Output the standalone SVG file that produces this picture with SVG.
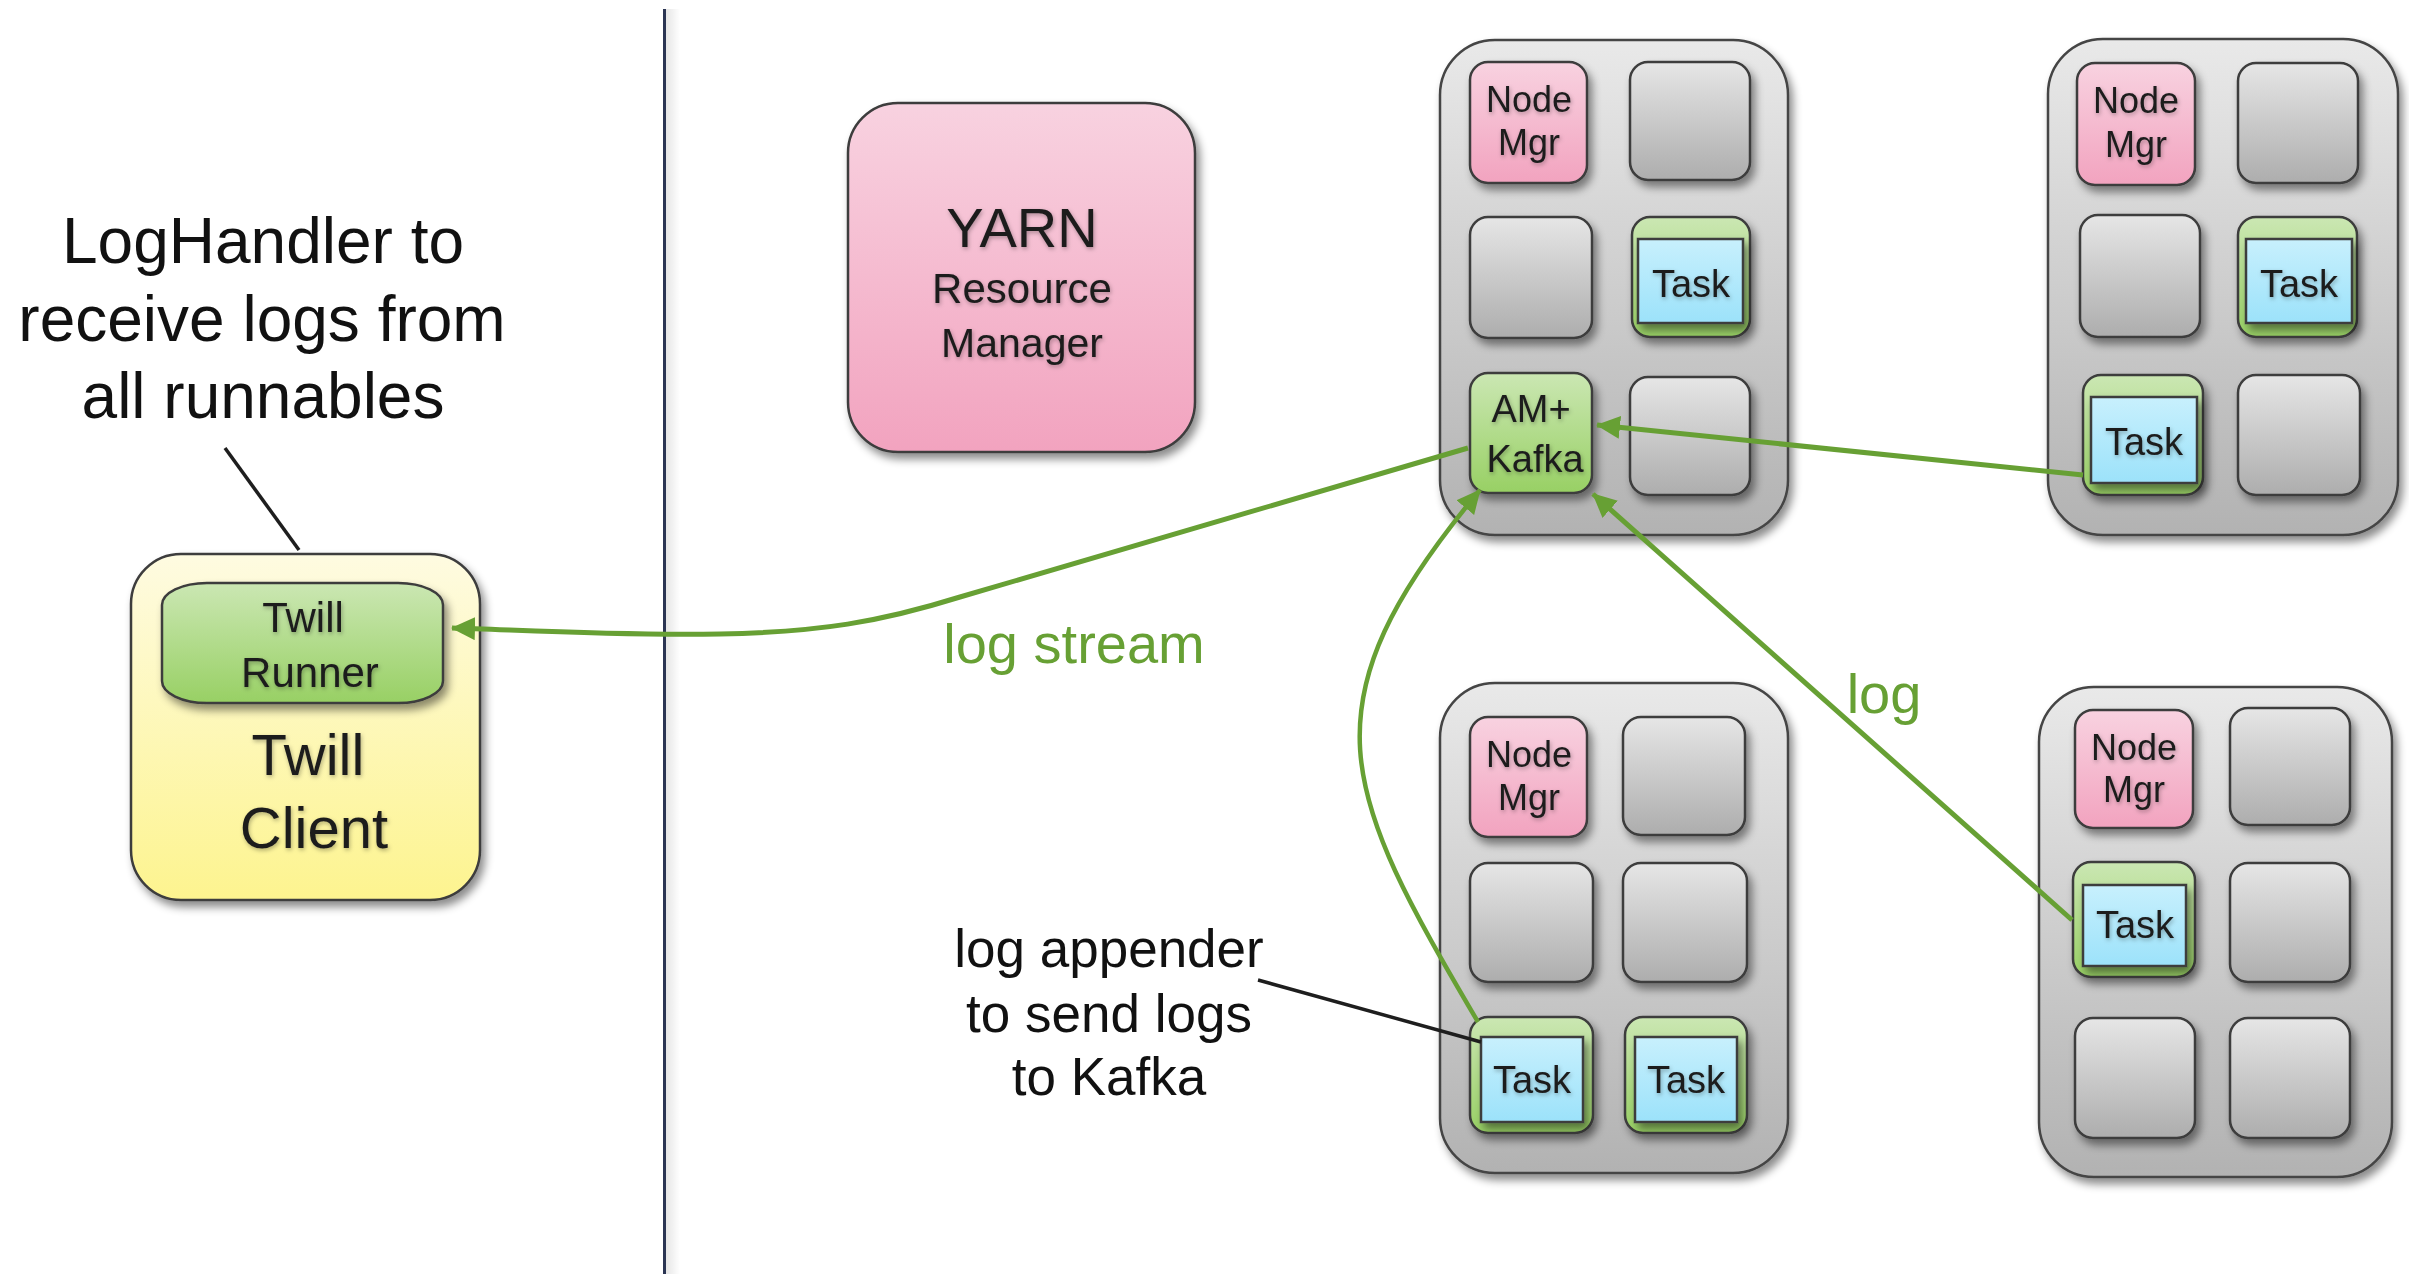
<svg xmlns="http://www.w3.org/2000/svg" width="2409" height="1274" viewBox="0 0 2409 1274">
<defs>
<linearGradient id="gHost" x1="0" y1="0" x2="0" y2="1"><stop offset="0" stop-color="#e9e9e9"/><stop offset="1" stop-color="#b2b2b2"/></linearGradient>
<linearGradient id="gGray" x1="0" y1="0" x2="0" y2="1"><stop offset="0" stop-color="#e6e6e6"/><stop offset="1" stop-color="#adadad"/></linearGradient>
<linearGradient id="gPink" x1="0" y1="0" x2="0" y2="1"><stop offset="0" stop-color="#f8d2e0"/><stop offset="1" stop-color="#f2a3bf"/></linearGradient>
<linearGradient id="gGreen" x1="0" y1="0" x2="0" y2="1"><stop offset="0" stop-color="#cbe7b3"/><stop offset="1" stop-color="#98d064"/></linearGradient>
<linearGradient id="gBlue" x1="0" y1="0" x2="0" y2="1"><stop offset="0" stop-color="#c8f0fd"/><stop offset="1" stop-color="#9ce2fa"/></linearGradient>
<linearGradient id="gYellow" x1="0" y1="0" x2="0" y2="1"><stop offset="0" stop-color="#fefbe1"/><stop offset="1" stop-color="#fdf48f"/></linearGradient>
<linearGradient id="gLineShadow" x1="0" y1="0" x2="1" y2="0"><stop offset="0" stop-color="#000" stop-opacity="0.10"/><stop offset="1" stop-color="#000" stop-opacity="0"/></linearGradient>
<filter id="sh" x="-20%" y="-20%" width="150%" height="150%"><feDropShadow dx="4" dy="6" stdDeviation="4" flood-color="#000" flood-opacity="0.45"/></filter>
<filter id="ts" x="-20%" y="-30%" width="140%" height="170%"><feDropShadow dx="1" dy="2" stdDeviation="2" flood-color="#000" flood-opacity="0.3"/></filter>
<marker id="ah" markerUnits="userSpaceOnUse" markerWidth="26" markerHeight="24" refX="23" refY="11.5" orient="auto"><path d="M0,0 L24,11.5 L0,23 z" fill="#67a034"/></marker>
</defs>
<style>
.host{fill:url(#gHost);stroke:#444;stroke-width:2.5;filter:url(#sh)}
.gray{fill:url(#gGray);stroke:#3c3c3c;stroke-width:2.5;filter:url(#sh)}
.pink{fill:url(#gPink);stroke:#3c3c3c;stroke-width:2.5;filter:url(#sh)}
.green{fill:url(#gGreen);stroke:#3c3c3c;stroke-width:2.5;filter:url(#sh)}
.blue{fill:url(#gBlue);stroke:#3c3c3c;stroke-width:2.5;filter:url(#sh)}
.yellow{fill:url(#gYellow);stroke:#3c3c3c;stroke-width:2.5;filter:url(#sh)}
.lbl{font-family:"Liberation Sans",Arial,sans-serif;fill:#1c1c1c;text-anchor:middle;filter:url(#ts)}
.s36{font-size:36px}.s38{font-size:38px}
.note{font-family:"Liberation Sans",Arial,sans-serif;fill:#111;text-anchor:middle;font-weight:300}
.glbl{font-family:"Liberation Sans",Arial,sans-serif;fill:#67a034;text-anchor:middle;font-size:56px}
.arr{fill:none;stroke:#67a034;stroke-width:5;marker-end:url(#ah)}
.call{fill:none;stroke:#1e1e1e;stroke-width:3.5}
</style>

<g id="divider">
<rect x="666" y="9" width="14" height="1265" fill="url(#gLineShadow)"/>
<rect x="663" y="9" width="3" height="1265" fill="#2b3553"/>
</g>

<g id="loghandler-note">
<text class="note" font-size="64" x="263" y="263">LogHandler to</text>
<text class="note" font-size="64" x="262" y="341">receive logs from</text>
<text class="note" font-size="64" x="263" y="418">all runnables</text>
</g>

<g id="log-appender-note">
<text class="note" font-size="53" x="1109" y="967">log appender</text>
<text class="note" font-size="53" x="1109" y="1032">to send logs</text>
<text class="note" font-size="53" x="1109" y="1095">to Kafka</text>
</g>

<g id="twill-client">
<rect class="yellow" x="131" y="554" width="349" height="346" rx="50"/>
<text class="lbl" font-size="58" x="308" y="775">Twill</text>
<text class="lbl" font-size="58" x="314" y="848">Client</text>
</g>
<g id="twill-runner">
<rect class="green" x="162" y="583" width="281" height="120" rx="45" ry="22"/>
<text class="lbl" font-size="42" x="303" y="632">Twill</text>
<text class="lbl" font-size="42" x="310" y="687">Runner</text>
</g>

<g id="yarn-rm">
<rect class="pink" x="848" y="103" width="347" height="349" rx="50"/>
<text class="lbl" font-size="56" x="1022" y="247">YARN</text>
<text class="lbl" font-size="42" x="1022" y="303">Resource</text>
<text class="lbl" font-size="41" x="1022" y="357">Manager</text>
</g>

<g id="host-1">
<rect class="host" x="1440" y="40" width="348" height="495" rx="55"/>
<rect class="pink" x="1470" y="62" width="117" height="121" rx="18"/>
<text class="lbl s36" x="1529" y="112">Node</text>
<text class="lbl s36" x="1529" y="155">Mgr</text>
<rect class="gray" x="1630" y="62" width="120" height="118" rx="18"/>
<rect class="gray" x="1470" y="217" width="122" height="121" rx="18"/>
<rect class="green" x="1632" y="217" width="118" height="120" rx="18"/>
<rect class="blue" x="1638" y="239" width="105" height="84"/>
<text class="lbl s38" x="1691" y="297">Task</text>
<rect class="gray" x="1630" y="377" width="120" height="118" rx="18"/>
</g>
<g id="am-kafka">
<rect class="green" x="1470" y="373" width="122" height="120" rx="18"/>
<text class="lbl s38" x="1531" y="422">AM+</text>
<text class="lbl s38" x="1535" y="472">Kafka</text>
</g>

<g id="host-2">
<rect class="host" x="2048" y="39" width="350" height="496" rx="55"/>
<rect class="pink" x="2077" y="63" width="118" height="122" rx="18"/>
<text class="lbl s36" x="2136" y="113">Node</text>
<text class="lbl s36" x="2136" y="157">Mgr</text>
<rect class="gray" x="2238" y="63" width="120" height="120" rx="18"/>
<rect class="gray" x="2080" y="215" width="120" height="122" rx="18"/>
<rect class="green" x="2238" y="217" width="119" height="120" rx="18"/>
<rect class="blue" x="2246" y="239" width="106" height="84"/>
<text class="lbl s38" x="2299" y="297">Task</text>
<rect class="green" x="2083" y="375" width="120" height="120" rx="18"/>
<rect class="blue" x="2091" y="397" width="106" height="86"/>
<text class="lbl s38" x="2144" y="455">Task</text>
<rect class="gray" x="2238" y="375" width="122" height="120" rx="18"/>
</g>

<g id="host-3">
<rect class="host" x="1440" y="683" width="348" height="490" rx="55"/>
<rect class="pink" x="1470" y="717" width="117" height="120" rx="18"/>
<text class="lbl s36" x="1529" y="767">Node</text>
<text class="lbl s36" x="1529" y="810">Mgr</text>
<rect class="gray" x="1623" y="717" width="122" height="118" rx="18"/>
<rect class="gray" x="1470" y="863" width="123" height="119" rx="18"/>
<rect class="gray" x="1623" y="863" width="124" height="119" rx="18"/>
<rect class="green" x="1470" y="1017" width="123" height="116" rx="18"/>
<rect class="blue" x="1481" y="1037" width="102" height="85"/>
<text class="lbl s38" x="1532" y="1093">Task</text>
<rect class="green" x="1625" y="1017" width="122" height="116" rx="18"/>
<rect class="blue" x="1635" y="1037" width="102" height="85"/>
<text class="lbl s38" x="1686" y="1093">Task</text>
</g>

<g id="host-4">
<rect class="host" x="2039" y="687" width="353" height="490" rx="55"/>
<rect class="pink" x="2075" y="710" width="118" height="118" rx="18"/>
<text class="lbl s36" x="2134" y="760">Node</text>
<text class="lbl s36" x="2134" y="802">Mgr</text>
<rect class="gray" x="2230" y="708" width="120" height="117" rx="18"/>
<rect class="green" x="2073" y="862" width="122" height="115" rx="18"/>
<rect class="blue" x="2083" y="885" width="103" height="81"/>
<text class="lbl s38" x="2135" y="938">Task</text>
<rect class="gray" x="2230" y="863" width="120" height="119" rx="18"/>
<rect class="gray" x="2075" y="1018" width="120" height="120" rx="18"/>
<rect class="gray" x="2230" y="1018" width="120" height="120" rx="18"/>
</g>

<g id="connectors">
<path class="arr" d="M1468,448 L960,597 C880,622 820,632 720,634 C620,636 520,630 452,628"/>
<path class="arr" d="M2083,475 L1597,425"/>
<path class="arr" d="M2072,920 L1593,494"/>
<path class="arr" style="stroke-width:4.5" d="M1478,1022 C1341,789 1300,706 1480,490"/>
<line class="call" x1="225" y1="448" x2="299" y2="550"/>
<line class="call" x1="1258" y1="980" x2="1481" y2="1042"/>
</g>

<g id="labels">
<text class="glbl" x="1074" y="663">log stream</text>
<text class="glbl" x="1884" y="713">log</text>
</g>
</svg>
